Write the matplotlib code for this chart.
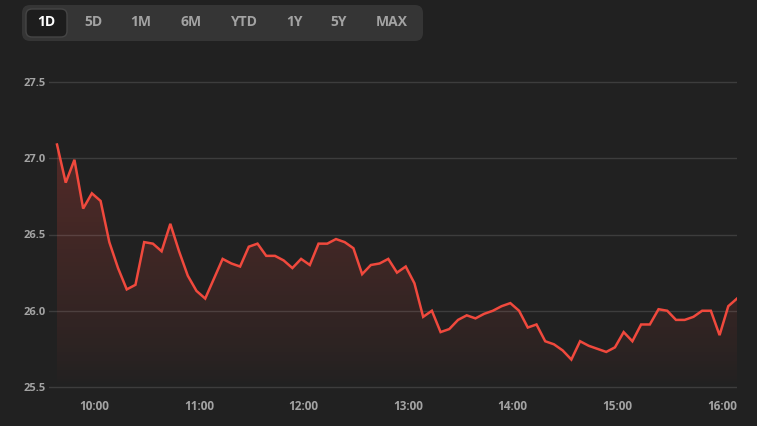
import numpy as np
import matplotlib.pyplot as plt
from matplotlib.patches import FancyBboxPatch

# 5-minute closes, 09:30 -> 16:00
prices = [27.09, 26.84, 26.99, 26.67, 26.77, 26.72, 26.45, 26.28, 26.14, 26.17,
          26.45, 26.44, 26.39, 26.57, 26.39, 26.23, 26.13, 26.08, 26.21, 26.34,
          26.31, 26.29, 26.42, 26.44, 26.36, 26.36, 26.33, 26.28, 26.34, 26.30,
          26.44, 26.44, 26.47, 26.45, 26.41, 26.24, 26.30, 26.31, 26.34, 26.25,
          26.29, 26.18, 25.96, 26.00, 25.86, 25.88, 25.94, 25.97, 25.95, 25.98,
          26.00, 26.03, 26.05, 26.00, 25.89, 25.91, 25.80, 25.78, 25.74, 25.68,
          25.80, 25.77, 25.75, 25.73, 25.76, 25.86, 25.80, 25.91, 25.91, 26.01,
          26.00, 25.94, 25.94, 25.96, 26.00, 26.00, 25.84, 26.03, 26.08]
time_labels = ["10:00", "11:00", "12:00", "13:00", "14:00", "15:00", "16:00"]
y_ticks = [25.5, 26.0, 26.5, 27.0, 27.5]
ranges = ["1D", "5D", "1M", "6M", "YTD", "1Y", "5Y", "MAX"]

bg = "#212121"
line_col = "#f0493d"
txt_col = "#a3a3a3"
W, H = 757, 426

plt.rcParams['font.family'] = ['Open Sans', 'DejaVu Sans']

def to_min(s):
    h, m = s.split(":")
    return (int(h) - 9) * 60 + int(m) - 30

x = np.arange(len(prices)) * 5
y = np.array(prices)

fig = plt.figure(figsize=(W / 100, H / 100), dpi=100, facecolor=bg)

# axes placement in pixels
ymin, ymax = 25.48, 27.52
ppu = 152.5
top_px = 82 - (ymax - 27.5) * ppu
bot_px = 387 + (25.5 - ymin) * ppu
ax = fig.add_axes([49 / W, 1 - bot_px / H, (737 - 49) / W, (bot_px - top_px) / H])
ax.set_facecolor(bg)
ax.set_ylim(ymin, ymax)
ax.set_xlim(-8 / 8.718 * 5, 390)

for v in y_ticks:
    ax.axhline(v, color="white", alpha=0.13, lw=1, zorder=2.5)

# gradient fill under the line
poly = ax.fill_between(x, y, 25.5, color="none", lw=0)
grad = np.linspace(0, 1, 256).reshape(-1, 1)
rgba = np.zeros((256, 1, 4))
rgba[..., 0] = 0.94
rgba[..., 1] = 0.29
rgba[..., 2] = 0.24
rgba[..., 3] = 0.24 * grad ** 0.8
img = ax.imshow(rgba, extent=[x[0], x[-1], 25.5, y.max()], origin="lower",
                aspect="auto", zorder=2)
img.set_clip_path(poly.get_paths()[0], transform=ax.transData)

ax.plot(x, y, color=line_col, lw=1.8, zorder=3, solid_joinstyle="miter")

ax.set_yticks(y_ticks)
ax.set_yticklabels([f"{v:.1f}" for v in y_ticks])
ax.set_xticks([to_min(s) for s in time_labels])
ax.set_xticklabels(time_labels, ha="right")
ax.tick_params(axis="both", length=0, colors=txt_col)
ax.tick_params(axis="y", pad=2, labelsize=8)
ax.tick_params(axis="x", pad=7.5, labelsize=8.5)
for lab in ax.get_xticklabels() + ax.get_yticklabels():
    lab.set_fontweight("bold")
for s in ax.spines.values():
    s.set_visible(False)

# range selector bar
def box(x0, y0, x1, y1, r, fc, ec="none"):
    p = FancyBboxPatch((x0 + r, H - y1 + r), x1 - x0 - 2 * r, y1 - y0 - 2 * r,
                       boxstyle=f"round,pad={r}", fc=fc, ec=ec, lw=1,
                       transform=None, figure=fig)
    fig.patches.append(p)

box(22, 5, 423, 41, 8, "#353535")
box(26, 9, 67, 37, 6, "#1d1d1d", "#454545")
cx = [46, 93, 141, 191, 243, 294, 339, 392]
for lab, c in zip(ranges, cx):
    fig.text(c / W, 1 - 22.5 / H, lab, ha="center", va="center",
             fontsize=10, fontweight="bold",
             color="white" if lab == "1D" else txt_col)

fig.savefig("out.png", dpi=100, facecolor=bg)
